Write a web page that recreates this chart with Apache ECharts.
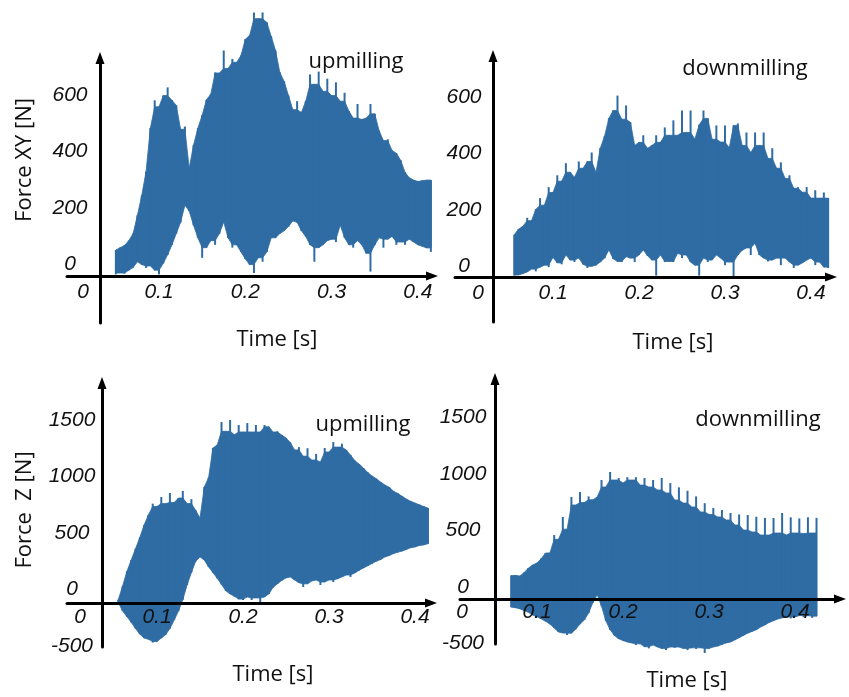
<!DOCTYPE html>
<html>
<head>
<meta charset="utf-8">
<script src="https://cdn.jsdelivr.net/npm/echarts@6.0.0/dist/echarts.min.js"></script>
<style>html,body{margin:0;padding:0;background:#fff}#c{width:849px;height:697px}</style>
</head>
<body>
<div id="c"></div>
<script>
// ---- data (time in s, force in N) ----
const time = [
0.050,0.055,0.060,0.065,0.070,0.075,0.080,0.085,0.090,0.095,
0.100,0.105,0.110,0.115,0.120,0.125,0.130,0.135,0.140,0.145,
0.150,0.155,0.160,0.165,0.170,0.175,0.180,0.185,0.190,0.195,
0.200,0.205,0.210,0.215,0.220,0.225,0.230,0.235,0.240,0.245,
0.250,0.255,0.260,0.265,0.270,0.275,0.280,0.285,0.290,0.295,
0.300,0.305,0.310,0.315,0.320,0.325,0.330,0.335,0.340,0.345,
0.350,0.355,0.360,0.365,0.370,0.375,0.380,0.385,0.390,0.395,
0.400,0.405,0.410,0.415,0.420,0.425];

// Force XY, upmilling: upper / lower envelope
const xyUpHi = [
50,58,66,83,108,173,243,328,482,581,
558,598,627,581,563,478,488,340,422,482,
528,583,603,680,678,758,694,728,716,740,
798,811,893,871,893,857,808,758,680,648,
598,548,578,538,578,673,638,683,613,658,
598,645,578,608,543,518,568,513,518,568,
533,473,438,443,403,393,368,326,306,298,
293,296,298,298,null,null];
const xyUpLo = [
-37,-32,-34,-22,-12,8,-2,-14,-7,-22,
-37,3,33,68,108,148,209,188,138,93,
22,58,83,68,108,149,93,58,68,43,
18,-2,-32,22,8,43,93,93,108,118,
133,153,148,118,98,68,8,58,68,83,
88,78,138,93,68,58,83,68,38,-27,
68,93,58,88,98,68,78,68,88,78,
68,63,57,43,null,null];

// Force XY, downmilling
const xyDownHi = [
null,111,131,141,171,161,201,241,216,280,
261,322,301,365,333,315,371,347,371,403,
333,418,461,524,552,605,521,570,510,428,
439,464,418,428,464,439,492,464,517,464,
552,474,552,450,501,552,524,450,499,440,
499,420,499,506,428,474,403,474,428,474,
382,418,347,368,311,322,276,280,262,280,
241,269,241,261,241,null];
const xyDownLo = [
null,-34,-32,-27,-21,-11,-19,-4,3,-4,
31,11,6,39,21,14,28,6,-7,-1,
3,14,28,57,26,16,14,33,28,14,
39,57,36,21,-34,39,14,16,14,45,
28,39,14,3,-34,28,14,21,39,28,
3,14,-39,39,56,64,39,81,39,28,
16,21,28,3,28,14,-7,3,11,21,
28,3,14,-4,-7,null];

// Force Z, upmilling
const zUpHi = [
null,-90,30,160,260,360,460,570,660,760,
735,819,760,854,770,810,872,760,800,700,
633,907,990,1252,1279,1482,1400,1500,1370,1456,
1394,1473,1394,1456,1394,1456,1440,1394,1400,1367,
1341,1300,1235,1260,1180,1250,1146,1200,1128,1252,
1217,1305,1260,1290,1235,1190,1140,1110,1075,1035,
1005,980,951,925,905,870,850,825,800,780,
765,750,735,721,null,null];
const zUpLo = [
null,-115,-190,-240,-290,-345,-395,-430,-440,-470,
-460,-430,-400,-345,-270,-190,-90,40,150,250,
288,260,200,150,100,45,-10,-40,-60,-85,
-93,-66,-93,-75,-111,-66,-40,20,50,80,
102,111,84,60,22,50,75,84,40,66,
84,66,95,111,128,111,146,170,190,210,
230,250,265,288,300,318,330,340,355,370,
376,390,394,405,null,null];

// Force Z, downmilling
const zDownHi = [
null,null,null,null,100,104,96,125,166,193,
211,250,299,300,458,420,618,510,795,724,
839,745,800,770,795,945,883,1016,945,963,
918,970,945,970,900,963,883,945,857,963,
830,918,768,880,741,850,706,800,662,740,
640,697,618,680,591,653,547,640,502,635,
485,620,458,610,458,609,476,653,458,615,
476,605,470,615,476,610];
const zDownLo = [
null,null,null,null,-180,-185,-195,-210,-225,-250,
-265,-285,-305,-330,-365,-400,-409,-427,-410,-375,
-330,-294,-232,-140,-70,-170,-300,-380,-430,-460,
-475,-489,-497,-515,-505,-530,-545,-515,-533,-545,
-560,-533,-540,-533,-545,-560,-540,-550,-540,-586,
-545,-533,-525,-510,-497,-489,-471,-450,-430,-410,
-395,-380,-356,-338,-315,-300,-285,-275,-267,-280,
-267,-255,-270,-255,-275,-260];

// tick labels
const xTickValues = [0.1, 0.2, 0.3, 0.4];
const xyTickValues = [0, 200, 400, 600];
const zTickValues = [-500, 0, 500, 1000, 1500];
const titles = ['upmilling', 'downmilling', 'upmilling', 'downmilling'];
const yNames = ['Force XY [N]', 'Force  Z [N]'];
const xName = 'Time [s]';

// ---- chart ----
const BLUE = '#2f6ca4';
const INK = '#111';
const TICK_FONT = 'Liberation Sans';
const TEXT_FONT = '"Open Sans"';

// body of the band: a local peak is drawn as a thin spike above the body
function bodyEdge(arr, i, isTop) {
  const nb = [arr[i - 1], arr[i + 1]].filter(v => v != null);
  if (!nb.length) return arr[i];
  if (isTop && nb.every(v => v < arr[i])) return Math.max.apply(null, nb);
  if (!isTop && nb.every(v => v > arr[i])) return Math.min.apply(null, nb);
  return arr[i];
}

function samples(hi, lo) {
  const idx = [];
  for (let i = 0; i < time.length; i++) if (hi[i] != null) idx.push(i);
  return idx.map((i, k) => {
    const j = k + 1 < idx.length ? idx[k + 1] : i;
    return [time[i], lo[i], hi[i], bodyEdge(lo, i, false), bodyEdge(hi, i, true),
            time[j], bodyEdge(lo, j, false), bodyEdge(hi, j, true)];
  });
}

const panels = [
  {grid:{left:67, top:58, width:365, height:265}, xMin:-0.0066, xMax:0.4163, yMin:-209.4, yMax:731.3,
   xOff:-47, yOff:-33, zeroPad:32, xMargin:5, yMargin:30, yTicks:xyTickValues, hi:xyUpHi, lo:xyUpLo},
  {grid:{left:455, top:56, width:376, height:266}, xMin:-0.01395, xMax:0.4233, yMin:-198.8, yMax:745.5,
   xOff:-45, yOff:-38, zeroPad:46, xMargin:5, yMargin:29, yTicks:xyTickValues, hi:xyDownHi, lo:xyDownLo},
  {grid:{left:67, top:383, width:364, height:264}, xMin:-0.00465, xMax:0.4186, yMin:-508.8, yMax:1827.4,
   xOff:-44, yOff:-35, zeroPad:26, xMargin:3, yMargin:30, yTicks:zTickValues, hi:zUpHi, lo:zUpLo},
  {grid:{left:460, top:379, width:380, height:265}, xMin:0.01047, xMax:0.4523, yMin:-506.2, yMax:1838.9,
   xOff:-45, yOff:-35, zeroPad:4, xMargin:2, yMargin:32, yTicks:zTickValues, hi:zDownHi, lo:zDownLo}
];

const tickText = {color: INK, fontFamily: TICK_FONT, fontStyle: 'italic', fontSize: 21, lineHeight: 22};
const axisLine = {show: true, onZero: false, symbol: ['none', 'triangle'], symbolSize: [9, 12],
                  lineStyle: {color: '#000', width: 3}};

function renderBand(params, api) {
  const t = api.value(0), tn = api.value(5);
  const body = [api.coord([t, api.value(3)]), api.coord([t, api.value(4)]),
                api.coord([tn, api.value(7)]), api.coord([tn, api.value(6)])];
  const lo = api.coord([t, api.value(1)]), hi = api.coord([t, api.value(2)]);
  return {type: 'group', children: [
    {type: 'polygon', shape: {points: body}, style: {fill: BLUE, stroke: BLUE, lineWidth: 0.8}},
    {type: 'line', shape: {x1: lo[0], y1: lo[1], x2: hi[0], y2: hi[1]}, style: {stroke: BLUE, lineWidth: 2}}
  ]};
}

const option = {
  animation: false,
  backgroundColor: '#fff',
  grid: panels.map(p => Object.assign({containLabel: false}, p.grid)),
  xAxis: panels.map((p, i) => ({
    gridIndex: i, type: 'value', min: p.xMin, max: p.xMax, offset: p.xOff, z: 5,
    axisLine: axisLine, axisTick: {show: false}, splitLine: {show: false},
    axisLabel: Object.assign({}, tickText, {
      customValues: [p.xMin].concat(xTickValues), margin: p.xMargin, showMinLabel: true,
      formatter: v => Math.abs(v - p.xMin) < 1e-9 ? '{z|0}' : String(v),
      rich: {z: Object.assign({}, tickText, {padding: [0, 0, 0, p.zeroPad]})}
    })
  })),
  yAxis: panels.map((p, i) => ({
    gridIndex: i, type: 'value', min: p.yMin, max: p.yMax, offset: p.yOff, z: 5,
    axisLine: axisLine, axisTick: {show: false}, splitLine: {show: false},
    axisLabel: Object.assign({}, tickText, {
      customValues: p.yTicks, margin: p.yMargin, align: 'center',
      formatter: v => String(v)
    })
  })),
  series: panels.map((p, i) => ({
    type: 'custom', xAxisIndex: i, yAxisIndex: i, clip: false, silent: true, z: 2,
    encode: {x: [0, 5], y: [1, 2, 3, 4, 6, 7]},
    renderItem: renderBand,
    data: samples(p.hi, p.lo)
  })),
  graphic: [
    {pos: [356, 62], text: titles[0]},
    {pos: [745, 69], text: titles[1]},
    {pos: [363, 425], text: titles[2]},
    {pos: [758, 420], text: titles[3]},
    {pos: [25, 160], text: yNames[0], rot: Math.PI / 2},
    {pos: [25, 510], text: yNames[1], rot: Math.PI / 2},
    {pos: [277, 340], text: xName},
    {pos: [673, 343], text: xName},
    {pos: [273, 675], text: xName},
    {pos: [687, 681], text: xName}
  ].map(t => ({
    type: 'text', x: t.pos[0], y: t.pos[1], rotation: t.rot || 0, z: 10,
    style: {text: t.text, font: '22px ' + TEXT_FONT, fill: INK, align: 'center', verticalAlign: 'middle'}
  }))
};

const chart = echarts.init(document.getElementById('c'), null, {renderer: 'canvas'});
chart.setOption(option);
</script>
</body>
</html>
